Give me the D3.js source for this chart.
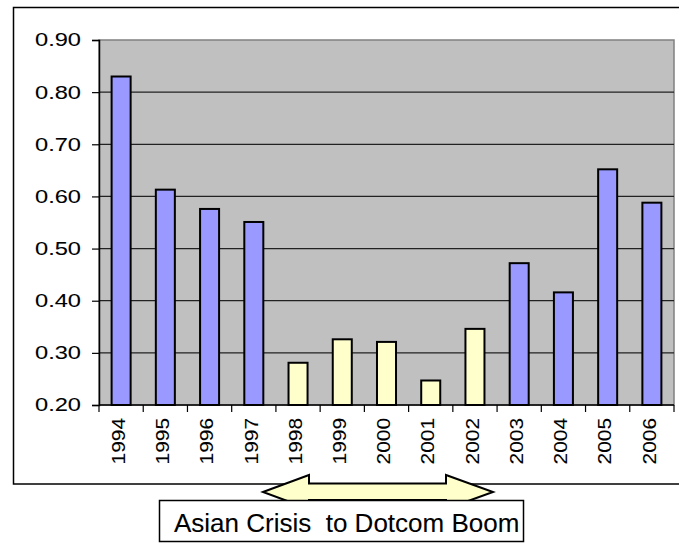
<!DOCTYPE html>
<html>
<head>
<meta charset="utf-8">
<script src="https://cdn.jsdelivr.net/npm/d3@7"></script>
<style>
  body { margin: 0; background: #fff; }
  text { font-family: "Liberation Sans", Arial, sans-serif; fill: #000; }
  .lbl { stroke: #000; stroke-width: 0.08px; }
</style>
</head>
<body>
<svg id="chart"></svg>
<script>
// chart data
const years = ["1994", "1995", "1996", "1997", "1998", "1999", "2000", "2001", "2002", "2003", "2004", "2005", "2006"];
const values = [0.83, 0.613, 0.576, 0.551, 0.281, 0.326, 0.321, 0.247, 0.346, 0.472, 0.416, 0.652, 0.588];
const crisisYears = ["1998", "1999", "2000", "2001", "2002"];
const yTicks = [0.2, 0.3, 0.4, 0.5, 0.6, 0.7, 0.8, 0.9];
const annotationText = "Asian Crisis  to Dotcom Boom";

class barChart {
    constructor(_config, _data) {
        this.config = {
            parentElement: _config.parentElement,
            containerWidth: _config.containerWidth || 679,
            containerHeight: _config.containerHeight || 543,
            margin: {top: 40, right: 5, bottom: 138, left: 99}
        }
        this.data = _data;
        this.initVis();
    }

    initVis() {
        let vis = this;

        vis.width = vis.config.containerWidth - vis.config.margin.left - vis.config.margin.right;
        vis.height = vis.config.containerHeight - vis.config.margin.top - vis.config.margin.bottom;

        vis.xScale = d3.scaleBand()
            .domain(years)
            .range([0, vis.width])
            .padding(0);

        vis.yScale = d3.scaleLinear()
            .domain([0.2, 0.9])
            .range([vis.height, 0]);

        vis.svg = d3.select(vis.config.parentElement)
            .attr('width', vis.config.containerWidth)
            .attr('height', vis.config.containerHeight);

        // outer chart frame (runs off the right edge like the original)
        vis.svg.append("rect")
            .attr("x", 13.5)
            .attr("y", 7.5)
            .attr("width", 700)
            .attr("height", 476.5)
            .attr("fill", "#fff")
            .attr("stroke", "#000")
            .attr("stroke-width", 1.5);

        vis.chart = vis.svg.append("g")
            .attr("transform", `translate(${vis.config.margin.left},${vis.config.margin.top})`);
    }

    updateVis() {
        let vis = this;
        vis.xValue = d => d.year;
        vis.yValue = d => d.value;
        vis.barWidth = vis.xScale.bandwidth() * 0.43;
        vis.renderVis();
    }

    renderVis() {
        let vis = this;

        // plot area
        vis.chart.append("rect")
            .attr("width", vis.width)
            .attr("height", vis.height)
            .attr("fill", "#c0c0c0")
            .attr("stroke", "#808080")
            .attr("stroke-width", 1.5);

        // gridlines
        vis.chart.selectAll(".grid")
            .data(yTicks.slice(1, -1))
            .join("line")
            .attr("class", "grid")
            .attr("x1", 0)
            .attr("x2", vis.width)
            .attr("y1", d => vis.yScale(d))
            .attr("y2", d => vis.yScale(d))
            .attr("stroke", "#222")
            .attr("stroke-width", 1.3);

        // bars
        vis.chart.selectAll(".bar")
            .data(vis.data)
            .join("rect")
            .attr("class", "bar")
            .attr("x", d => vis.xScale(vis.xValue(d)) + (vis.xScale.bandwidth() - vis.barWidth) / 2)
            .attr("y", d => vis.yScale(vis.yValue(d)))
            .attr("width", vis.barWidth)
            .attr("height", d => vis.height - vis.yScale(vis.yValue(d)))
            .attr("fill", d => crisisYears.includes(d.year) ? "#ffffcc" : "#9999ff")
            .attr("stroke", "#000")
            .attr("stroke-width", 2);

        // y axis
        vis.yAxis = d3.axisLeft(vis.yScale)
            .tickValues(yTicks)
            .tickFormat(d3.format(".2f"))
            .tickSize(7)
            .tickPadding(11);

        vis.yAxisG = vis.chart.append("g").call(vis.yAxis);
        vis.yAxisG.select(".domain").attr("stroke", "#000").attr("stroke-width", 1.5);
        vis.yAxisG.selectAll(".tick line").attr("stroke", "#000").attr("stroke-width", 1.2);
        vis.yAxisG.selectAll(".tick text")
            .attr("class", "lbl")
            .attr("font-family", null)
            .attr("font-size", null)
            .style("font-size", "18.5px")
            .attr("textLength", 46)
            .attr("lengthAdjust", "spacingAndGlyphs");

        // x axis: ticks on the category boundaries, labels rotated
        vis.xAxisG = vis.chart.append("g")
            .attr("transform", `translate(0,${vis.height})`);

        vis.xAxisG.append("line")
            .attr("x1", 0)
            .attr("x2", vis.width)
            .attr("stroke", "#000")
            .attr("stroke-width", 1.5);

        vis.xAxisG.selectAll(".xtick")
            .data(years.concat(["end"]))
            .join("line")
            .attr("class", "xtick")
            .attr("x1", d => d === "end" ? vis.width : vis.xScale(d))
            .attr("x2", d => d === "end" ? vis.width : vis.xScale(d))
            .attr("y1", 0)
            .attr("y2", 7)
            .attr("stroke", "#000")
            .attr("stroke-width", 1.2);

        vis.xAxisG.selectAll(".xlabel")
            .data(years)
            .join("text")
            .attr("class", "xlabel lbl")
            .attr("transform", d => `translate(${vis.xScale(d) + vis.xScale.bandwidth() / 2},13) rotate(-90)`)
            .attr("text-anchor", "end")
            .attr("dy", "0.2em")
            .style("font-size", "18.5px")
            .attr("textLength", 46.5)
            .attr("lengthAdjust", "spacingAndGlyphs")
            .text(d => d);

        // annotation arrow + label box
        const arrow = [
            [263, 492], [309, 475], [309, 483.5], [446, 483.5], [446, 475],
            [493, 492], [446, 509], [446, 500], [309, 500], [309, 509]
        ];
        vis.svg.append("polygon")
            .attr("points", arrow.map(p => p.join(",")).join(" "))
            .attr("fill", "#ffffcc")
            .attr("stroke", "#000")
            .attr("stroke-width", 2)
            .attr("stroke-linejoin", "miter");

        vis.svg.append("rect")
            .attr("x", 159.5)
            .attr("y", 500.5)
            .attr("width", 364)
            .attr("height", 41)
            .attr("fill", "#fff")
            .attr("stroke", "#000")
            .attr("stroke-width", 1.5);

        vis.svg.append("text")
            .attr("class", "lbl")
            .attr("x", 174)
            .attr("y", 532)
            .attr("xml:space", "preserve")
            .style("white-space", "pre")
            .style("font-size", "26px")
            .text(annotationText);
    }
}

const data = years.map((y, i) => ({year: y, value: values[i]}));
const chart = new barChart({parentElement: "#chart"}, data);
chart.updateVis();
</script>
</body>
</html>
